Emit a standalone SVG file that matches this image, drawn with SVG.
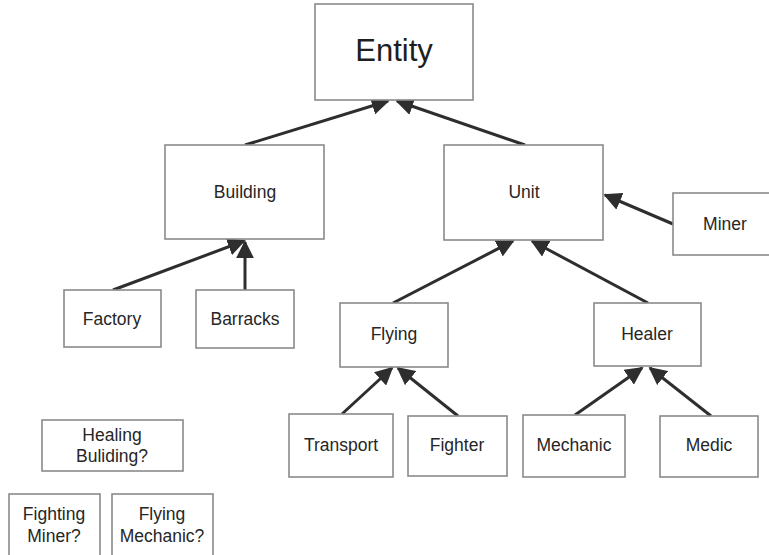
<svg xmlns="http://www.w3.org/2000/svg" width="769" height="555" viewBox="0 0 769 555">
<style>
.box{fill:#fff;stroke:#8a8a8a;stroke-width:1.6}
.t{font-family:"Liberation Sans",Arial,sans-serif;font-size:17.5px;fill:#262626;text-anchor:middle}
.big{font-size:31px;fill:#1e1e1e}
.c{stroke:#2e2e2e;stroke-width:3;fill:none;marker-end:url(#ah)}
</style>
<defs>
<marker id="ah" viewBox="0 0 10 10" refX="9" refY="5" markerWidth="6" markerHeight="6" markerUnits="strokeWidth" orient="auto">
<path d="M0,0 L10,5 L0,10 Z" fill="#2e2e2e"/>
</marker>
</defs>
<rect width="769" height="555" fill="#fff"/>
<g id="connectors">
<line class="c" x1="245" y1="145" x2="388" y2="101"/>
<line class="c" x1="525" y1="145" x2="397" y2="101"/>
<line class="c" x1="113" y1="290" x2="244" y2="241"/>
<line class="c" x1="245" y1="290" x2="245" y2="242"/>
<line class="c" x1="673" y1="224" x2="605" y2="195"/>
<line class="c" x1="393" y1="303" x2="513" y2="241"/>
<line class="c" x1="648" y1="303" x2="532" y2="241"/>
<line class="c" x1="342" y1="414" x2="392" y2="368"/>
<line class="c" x1="458" y1="416" x2="398" y2="368"/>
<line class="c" x1="575" y1="415" x2="642" y2="368"/>
<line class="c" x1="711" y1="416" x2="650" y2="368"/>
</g>
<g id="entity"><rect class="box" x="315" y="4" width="158" height="96"/><text class="t big" x="394" y="61">Entity</text></g>
<g id="building"><rect class="box" x="165" y="145" width="159" height="94"/><text class="t" x="245" y="198">Building</text></g>
<g id="unit"><rect class="box" x="444" y="145" width="159" height="95"/><text class="t" x="524" y="198">Unit</text></g>
<g id="miner"><rect class="box" x="673" y="193" width="104" height="62"/><text class="t" x="725" y="230">Miner</text></g>
<g id="factory"><rect class="box" x="64" y="290" width="97" height="57"/><text class="t" x="112" y="325">Factory</text></g>
<g id="barracks"><rect class="box" x="196" y="290" width="98" height="58"/><text class="t" x="245" y="325">Barracks</text></g>
<g id="flying"><rect class="box" x="340" y="303" width="108" height="64"/><text class="t" x="394" y="340">Flying</text></g>
<g id="healer"><rect class="box" x="594" y="303" width="107" height="63"/><text class="t" x="647" y="340">Healer</text></g>
<g id="transport"><rect class="box" x="289" y="414" width="104" height="63"/><text class="t" x="341" y="451">Transport</text></g>
<g id="fighter"><rect class="box" x="408" y="416" width="99" height="60"/><text class="t" x="457" y="451">Fighter</text></g>
<g id="mechanic"><rect class="box" x="523" y="415" width="102" height="62"/><text class="t" x="574" y="451">Mechanic</text></g>
<g id="medic"><rect class="box" x="660" y="416" width="98" height="61"/><text class="t" x="709" y="451">Medic</text></g>
<g id="healing-building"><rect class="box" x="42" y="420" width="141" height="51"/><text class="t" x="112" y="441">Healing</text><text class="t" x="112" y="462">Buliding?</text></g>
<g id="fighting-miner"><rect class="box" x="9" y="494" width="91" height="70"/><text class="t" x="54" y="520">Fighting</text><text class="t" x="54" y="542">Miner?</text></g>
<g id="flying-mechanic"><rect class="box" x="112" y="494" width="101" height="70"/><text class="t" x="162" y="520">Flying</text><text class="t" x="162" y="542">Mechanic?</text></g>
</svg>
